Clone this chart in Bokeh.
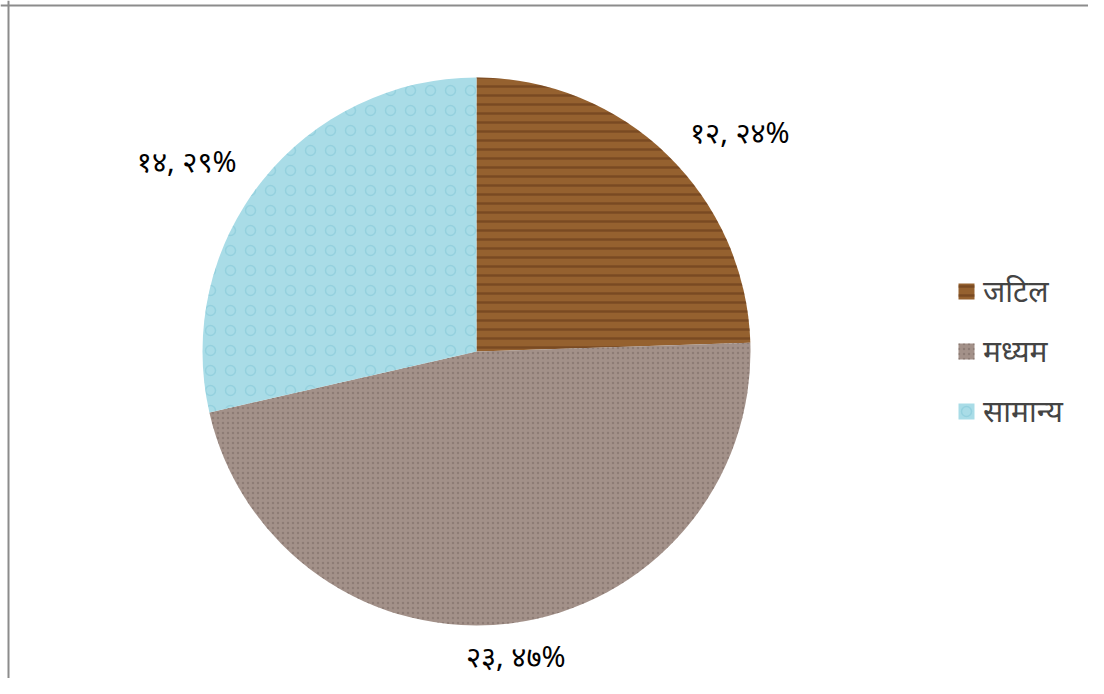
import math
from bokeh.plotting import figure
from bokeh.models import ColumnDataSource, Range1d, Span, Legend, LegendItem
from bokeh.core.properties import value
from bokeh.embed import file_html
from bokeh.resources import INLINE

# data
categories = ["जटिल", "मध्यम", "सामान्य"]
counts = [12, 23, 14]
count_labels = ["१२", "२३", "१४"]
percent_labels = ["२४%", "४७%", "२९%"]

fills = ["#95612f", "#a39189", "#a9dce7"]
hatch_colors = ["#5e3416", "#75665f", "#80c6d6"]
hatch_patterns = ["horizontal_line", "dot", "ring"]
hatch_scales = [9, 5, 20]
hatch_weights = [2.5, 1.2, 1.5]

W, H = 1088, 678
FONT = "Noto Sans"

p = figure(width=W, height=H, output_backend="svg", toolbar_location=None,
           x_range=Range1d(0, W), y_range=Range1d(0, H), min_border=0)
p.axis.visible = False
p.grid.visible = False
p.outline_line_color = None
p.background_fill_color = "white"
p.border_fill_color = "white"

cx, cy, r = 476, H - 351, 274
total = sum(counts)
starts, ends, cum = [], [], 0.0
for c in counts:
    starts.append(math.pi / 2 - cum / total * 2 * math.pi)
    cum += c
    ends.append(math.pi / 2 - cum / total * 2 * math.pi)

src = ColumnDataSource(dict(x=[cx] * 3, y=[cy] * 3, start=starts, end=ends,
                            fill=fills, hc=hatch_colors, hp=hatch_patterns,
                            hs=hatch_scales, hw=hatch_weights, label=categories))
wr = p.wedge(x="x", y="y", radius=r, start_angle="start", end_angle="end",
             direction="clock", fill_color="fill", line_color=None,
             hatch_color="hc", hatch_pattern="hp", hatch_scale="hs",
             hatch_weight="hw", hatch_alpha=0.5, source=src)

# data labels
lx, ly, la, texts = [], [], [], []
f = 1.12
for i in range(3):
    mid = (starts[i] + ends[i]) / 2
    s = math.cos(mid)
    lx.append(cx + f * r * math.cos(mid))
    ly.append(cy + f * r * math.sin(mid))
    la.append("center" if abs(s) < 0.3 else ("left" if s > 0 else "right"))
    texts.append(count_labels[i] + ", " + percent_labels[i])
p.text(x=lx, y=ly, text=texts, text_align=la, text_baseline="middle",
       text_font=value(FONT), text_font_size="29px", text_color="black")

legend = Legend(items=[LegendItem(label=categories[i], renderers=[wr], index=i) for i in range(3)],
                location=(956, 247), orientation="vertical",
                label_text_font=FONT, label_text_font_size="30px",
                glyph_width=20, glyph_height=20, label_height=40, spacing=19,
                padding=0, margin=0, border_line_color=None,
                background_fill_alpha=0, label_standoff=7)
p.add_layout(legend)

# chart border (left and top edges)
p.add_layout(Span(location=p.x_range.start + 8, dimension="height", line_color="#8c8c8c", line_width=2))
p.add_layout(Span(location=p.y_range.end - 5, dimension="width", line_color="#8c8c8c", line_width=2))

open("out.html", "w").write(file_html(p, INLINE))
